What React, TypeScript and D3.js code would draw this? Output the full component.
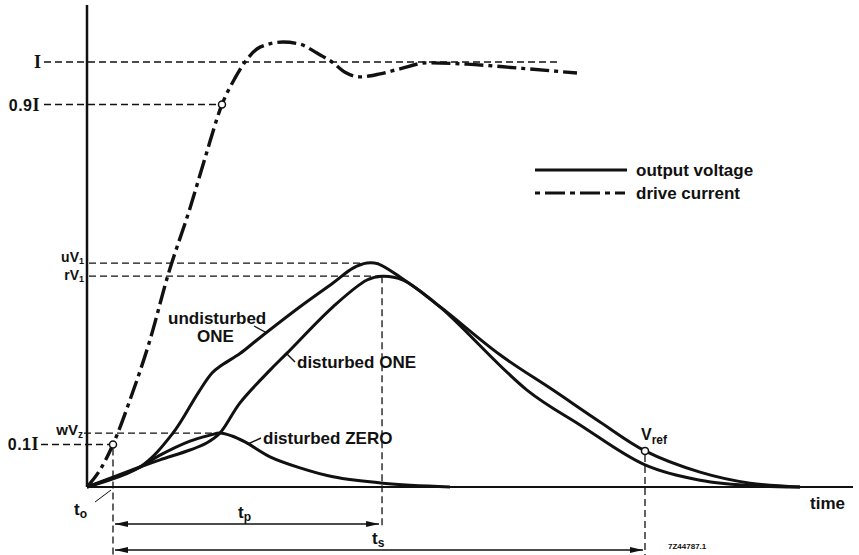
import React from "react";
import * as d3 from "d3";

const W = 859;
const H = 555;

// Drive current, in units of the final current I, against time (arbitrary units 0..100)
const driveCurrent: [number, number][] = [
  [0, 0], [1.71, 0.04], [3.42, 0.1], [5.66, 0.205], [8.29, 0.346], [10.66, 0.499],
  [13.55, 0.656], [15.53, 0.774], [17.76, 0.9], [19.47, 0.962], [20.79, 1.0],
  [22.76, 1.035], [25.79, 1.047], [28.03, 1.042], [30.26, 1.021], [32.24, 1.0],
  [33.95, 0.976], [35.92, 0.965], [38.55, 0.972], [41.18, 0.984], [44.74, 0.998],
  [50.0, 0.995], [56.58, 0.986], [64.47, 0.974],
];

// Output voltage, undisturbed ONE
const undisturbedOne: [number, number][] = [
  [0, 0], [6.97, 0.047], [11.32, 0.127], [14.61, 0.221], [16.45, 0.268], [17.76, 0.287],
  [20.13, 0.314], [22.37, 0.346], [28.03, 0.424], [32.37, 0.48], [35.0, 0.515],
  [36.84, 0.527], [38.29, 0.525], [41.18, 0.494], [46.45, 0.424], [57.89, 0.228],
  [64.87, 0.146], [73.42, 0.052], [80.66, 0.016], [88.55, 0.002], [93.82, 0],
];

// Output voltage, disturbed ONE
const disturbedOne: [number, number][] = [
  [0, 0], [6.97, 0.047], [9.61, 0.064], [13.55, 0.087], [15.79, 0.104], [17.5, 0.127],
  [20.13, 0.198], [24.08, 0.275], [26.32, 0.315], [32.37, 0.424], [36.84, 0.487],
  [38.82, 0.496], [41.58, 0.487], [46.45, 0.424], [54.34, 0.311], [61.32, 0.228],
  [67.5, 0.153], [73.42, 0.085], [80.66, 0.035], [87.24, 0.009], [93.82, 0],
];

// Output voltage, disturbed ZERO
const disturbedZero: [number, number][] = [
  [0, 0], [6.97, 0.047], [9.61, 0.075], [13.55, 0.108], [16.18, 0.122], [17.5, 0.127],
  [19.08, 0.12], [20.79, 0.106], [24.08, 0.071], [28.03, 0.045], [32.37, 0.024],
  [38.95, 0.009], [47.76, 0],
];

// Reference levels on the vertical axis
const levelI = 1.0;
const level09I = 0.9;
const level01I = 0.1;
const levelUV1 = 0.527;
const levelRV1 = 0.496;
const levelWVz = 0.127;

// Characteristic times
const t10 = 3.42; // drive reaches 0.1 I
const t90 = 17.76; // drive reaches 0.9 I
const tPeak = 38.82; // end of t_p
const tStrobe = 73.42; // end of t_s (V_ref strobe)
const vStrobe = 0.085;

const x = d3.scaleLinear().domain([0, 100]).range([87, 847]);
const y = d3.scaleLinear().domain([0, 1]).range([487, 62]);

const driveLine = d3
  .line<[number, number]>()
  .x((d) => x(d[0]))
  .y((d) => y(d[1]))
  .curve(d3.curveMonotoneX);

const voltageLine = d3
  .line<[number, number]>()
  .x((d) => x(d[0]))
  .y((d) => Math.min(y(0), y(d[1])))
  .curve(d3.curveCatmullRom.alpha(0.5));

const INK = "#111";
const SANS = "'Liberation Sans', Arial, sans-serif";
const SERIF = "'Liberation Serif', 'Times New Roman', serif";
const GUIDE_DASH = "7 4";
const DRIVE_DASH = "19 5 4 5";

function Guide({ x1, x2, y1, y2 }: { x1: number; x2: number; y1: number; y2: number }) {
  return <line x1={x1} x2={x2} y1={y1} y2={y2} stroke={INK} strokeWidth={1.3} strokeDasharray={GUIDE_DASH} />;
}

export default function App() {
  const txt = { fontFamily: SANS, fontWeight: 700, fill: INK } as const;
  return (
    <svg
      width={W}
      height={H}
      viewBox={`0 0 ${W} ${H}`}
      style={{ position: "absolute", left: 0, top: 0, background: "#fff" }}
    >
      <defs>
        <marker
          id="arrow"
          markerUnits="userSpaceOnUse"
          markerWidth={13}
          markerHeight={6}
          refX={13}
          refY={3}
          orient="auto-start-reverse"
        >
          <path d="M0,0 L13,3 L0,6 Z" fill={INK} />
        </marker>
      </defs>

      {/* horizontal reference guides */}
      <Guide x1={44} x2={557} y1={y(levelI)} y2={y(levelI)} />
      <Guide x1={44} x2={x(t90) - 4} y1={y(level09I)} y2={y(level09I)} />
      <Guide x1={89} x2={x(36.84) + 12} y1={y(levelUV1)} y2={y(levelUV1)} />
      <Guide x1={89} x2={x(tPeak)} y1={y(levelRV1)} y2={y(levelRV1)} />
      <Guide x1={84} x2={x(17.5)} y1={y(levelWVz)} y2={y(levelWVz)} />
      <Guide x1={41} x2={x(t10) - 4} y1={y(level01I)} y2={y(level01I)} />

      {/* vertical time guides */}
      <Guide x1={x(t10)} x2={x(t10)} y1={y(level01I) + 4} y2={555} />
      <Guide x1={x(tPeak)} x2={x(tPeak)} y1={y(levelRV1)} y2={529} />
      <Guide x1={x(tStrobe)} x2={x(tStrobe)} y1={y(vStrobe) + 4} y2={555} />

      {/* axes */}
      <line x1={x(0)} x2={x(0)} y1={5} y2={y(0)} stroke={INK} strokeWidth={2.5} />
      <line x1={x(0)} x2={853} y1={y(0)} y2={y(0)} stroke={INK} strokeWidth={2.2} />

      {/* curves */}
      <path d={voltageLine(disturbedZero) || ""} fill="none" stroke={INK} strokeWidth={3} />
      <path d={voltageLine(disturbedOne) || ""} fill="none" stroke={INK} strokeWidth={3} />
      <path d={voltageLine(undisturbedOne) || ""} fill="none" stroke={INK} strokeWidth={3} />
      <path
        d={driveLine(driveCurrent) || ""}
        fill="none"
        stroke={INK}
        strokeWidth={3.4}
        strokeDasharray={DRIVE_DASH}
      />

      {/* marker points */}
      {[
        [t10, level01I],
        [t90, level09I],
        [tStrobe, vStrobe],
      ].map(([t, v], i) => (
        <circle key={i} cx={x(t)} cy={y(v)} r={3.5} fill="#fff" stroke={INK} strokeWidth={1.5} />
      ))}

      {/* time interval arrows */}
      <line
        x1={x(t10) + 2}
        x2={x(tPeak) - 3}
        y1={524}
        y2={524}
        stroke={INK}
        strokeWidth={1.4}
        markerStart="url(#arrow)"
        markerEnd="url(#arrow)"
      />
      <line
        x1={x(t10) + 2}
        x2={x(tStrobe) - 2}
        y1={550}
        y2={550}
        stroke={INK}
        strokeWidth={1.4}
        markerStart="url(#arrow)"
        markerEnd="url(#arrow)"
      />

      {/* leaders */}
      <line x1={254} y1={326} x2={267} y2={333} stroke={INK} strokeWidth={1.4} />
      <line x1={287} y1={354} x2={295} y2={362} stroke={INK} strokeWidth={1.4} />
      <line x1={248} y1={444} x2={261} y2={438} stroke={INK} strokeWidth={1.4} />
      <line x1={95} y1={502} x2={111} y2={490} stroke={INK} strokeWidth={1} />

      {/* vertical axis labels */}
      <text x={41} y={y(levelI) + 6} textAnchor="end" fontSize={18} style={{ ...txt, fontFamily: SERIF }}>
        I
      </text>
      <text x={40} y={y(level09I) + 6} textAnchor="end" fontSize={16} letterSpacing={0.5} style={txt}>
        0.9<tspan fontFamily={SERIF} fontSize={18}>I</tspan>
      </text>
      <text x={39} y={y(level01I) + 5} textAnchor="end" fontSize={16} letterSpacing={0.5} style={txt}>
        0.1<tspan fontFamily={SERIF} fontSize={18}>I</tspan>
      </text>
      <text x={84} y={y(levelUV1) - 1} textAnchor="end" fontSize={14} style={txt}>
        uV<tspan fontSize={9} dy={2}>1</tspan>
      </text>
      <text x={84} y={y(levelRV1) + 4} textAnchor="end" fontSize={14} style={txt}>
        rV<tspan fontSize={9} dy={2}>1</tspan>
      </text>
      <text x={83} y={y(levelWVz) + 2} textAnchor="end" fontSize={15} style={txt}>
        wV<tspan fontSize={10} dy={3}>z</tspan>
      </text>

      {/* curve labels */}
      <text x={168} y={324} fontSize={17} style={txt}>
        undisturbed
      </text>
      <text x={197} y={342} fontSize={17} style={txt}>
        ONE
      </text>
      <text x={297} y={368} fontSize={17} style={txt}>
        disturbed ONE
      </text>
      <text x={263} y={444} fontSize={17} style={txt}>
        disturbed ZERO
      </text>
      <text x={641} y={440} fontSize={16} style={txt}>
        V<tspan fontSize={12} dy={4}>ref</tspan>
      </text>

      {/* time labels */}
      <text x={74} y={515} fontSize={17} style={txt}>
        t<tspan fontSize={12} dy={3}>o</tspan>
      </text>
      <text x={238} y={518} fontSize={17} style={txt}>
        t<tspan fontSize={12} dy={3}>p</tspan>
      </text>
      <text x={372} y={544} fontSize={17} style={txt}>
        t<tspan fontSize={12} dy={3}>s</tspan>
      </text>
      <text x={810} y={509} fontSize={17} style={txt}>
        time
      </text>
      <text x={668} y={549} fontSize={8} style={txt}>
        7Z44787.1
      </text>

      {/* legend */}
      <line x1={535} x2={627} y1={170} y2={170} stroke={INK} strokeWidth={3} />
      <text x={636} y={176} fontSize={17} style={txt}>
        output voltage
      </text>
      <line
        x1={535}
        x2={625}
        y1={193}
        y2={193}
        stroke={INK}
        strokeWidth={3}
        strokeDasharray="5 5 20 5"
      />
      <text x={636} y={199} fontSize={17} style={txt}>
        drive current
      </text>
    </svg>
  );
}
